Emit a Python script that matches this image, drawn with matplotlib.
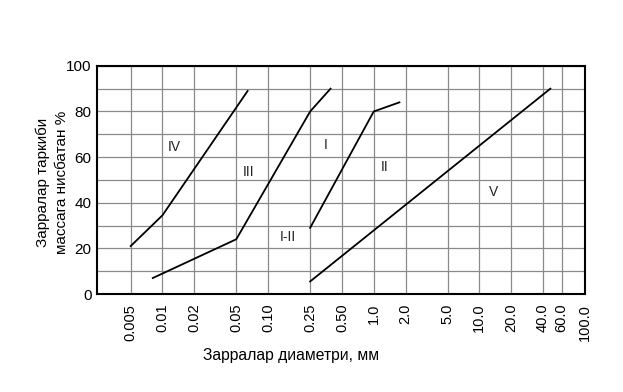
import matplotlib
matplotlib.use("Agg")
from matplotlib import pyplot as plt
from matplotlib.ticker import FixedLocator, MultipleLocator

plt.rcParams['font.family'] = ['Liberation Sans', 'DejaVu Sans']

# particle diameter ticks, mm
ticks = [0.005, 0.01, 0.02, 0.05, 0.10, 0.25, 0.50, 1.0, 2.0, 5.0, 10.0, 20.0, 40.0, 60.0, 100.0]
tick_labels = ["0.005", "0.01", "0.02", "0.05", "0.10", "0.25", "0.50", "1.0", "2.0",
               "5.0", "10.0", "20.0", "40.0", "60.0", "100.0"]

# curves (diameter, % of mass)
iv_x = [0.005, 0.01, 0.064]
iv_y = [21, 34.5, 89]
iii_x = [0.0081, 0.05, 0.25, 0.39]
iii_y = [7, 24, 80, 90]
i_x = [0.25, 1.0, 1.75]
i_y = [29, 80, 84]
v_x = [0.25, 47]
v_y = [5.5, 90]

names = ["IV", "III", "I", "II", "I-II", "V"]
name_x = [0.013, 0.066, 0.35, 1.28, 0.153, 13.5]
name_y = [64.5, 53.5, 65.5, 55.5, 25, 44.5]

fig = plt.figure(figsize=(6.23, 3.92), dpi=100)
ax = fig.add_axes([0.1557, 0.25, 0.7833, 0.582])

for x, y in [(iv_x, iv_y), (iii_x, iii_y), (i_x, i_y), (v_x, v_y)]:
    ax.plot(x, y, color='black', lw=1.3, zorder=3)

for n, x, y in zip(names, name_x, name_y):
    ax.text(x, y, n, fontsize=10, ha='center', va='center', color='#222222')

ax.set_xscale('log')
ax.set_xlim(0.0024, 100)
ax.set_ylim(0, 100)
ax.xaxis.set_major_locator(FixedLocator(ticks))
ax.xaxis.set_minor_locator(FixedLocator([]))
ax.set_xticklabels(tick_labels, rotation=90)
ax.yaxis.set_major_locator(MultipleLocator(20))
ax.yaxis.set_minor_locator(MultipleLocator(10))

ax.grid(True, which='both', color='#8a8a8a', lw=0.9)
ax.set_axisbelow(True)
ax.tick_params(axis='x', length=0, pad=7, labelsize=10.5)
ax.tick_params(axis='y', which='both', length=0, pad=4, labelsize=11)
for s in ax.spines.values():
    s.set_linewidth(1.5)

ax.set_ylabel("Зарралар таркиби\nмассага нисбатан %", fontsize=11, linespacing=1.45)
ax.yaxis.set_label_coords(-0.057, 0.49)
fig.text(0.467, 0.092, "Зарралар диаметри, мм", fontsize=11.3, ha='center', va='center')

fig.savefig("out.png", dpi=100)
